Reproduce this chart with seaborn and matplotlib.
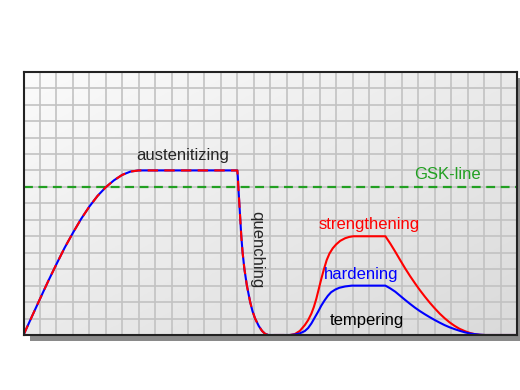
import numpy as np
import matplotlib
matplotlib.use("Agg")
import matplotlib.pyplot as plt
from matplotlib.patches import Rectangle
import seaborn as sns

# --- data (time / temperature in grid cells) ---
# shared path: heating, austenitizing, quenching, hold
shared_x = [0, 0.5, 1.0, 1.5, 2.0, 2.5, 3.0, 3.5, 4.0, 4.5, 5.0, 5.5, 6.0, 6.5, 7.0, 7.1,
            13.0, 13.03, 13.06, 13.12, 13.18, 13.24, 13.32, 13.43, 13.58, 13.78, 13.92,
            14.08, 14.3, 14.5, 14.7, 14.9, 16.2]
shared_y = [0, 1.1, 2.19, 3.27, 4.3, 5.3, 6.2, 7.05, 7.8, 8.45, 8.98, 9.4, 9.73, 9.93, 10.0, 10.0,
            10.0, 9.6, 9.0, 8.0, 7.0, 6.0, 5.0, 4.0, 3.0, 2.0, 1.45,
            1.0, 0.55, 0.25, 0.06, 0, 0]

# strengthening (red) tempering
strength_x = [16.2, 16.5, 16.8, 17.1, 17.3, 17.5, 17.65, 17.8, 17.95, 18.1, 18.25, 18.43,
              18.6, 18.8, 19.0, 19.25, 19.55, 19.8, 20.05, 22.0,
              22.3, 22.6, 22.9, 23.2, 23.5, 23.8, 24.1, 24.4, 24.7, 25.0, 25.3, 25.6,
              25.9, 26.2, 26.5, 26.84, 27.15, 27.45, 27.75, 28.06, 30]
strength_y = [0, 0.06, 0.25, 0.6, 0.9, 1.3, 1.7, 2.2, 2.8, 3.4, 3.95, 4.55,
              4.95, 5.27, 5.5, 5.72, 5.88, 5.96, 6.0, 6.0,
              5.55, 5.06, 4.55, 4.05, 3.58, 3.14, 2.72, 2.33, 1.96, 1.62, 1.3, 1.02,
              0.77, 0.56, 0.38, 0.23, 0.12, 0.05, 0.01, 0, 0]

# hardening (blue) tempering
harden_x = [16.2, 16.5, 16.8, 17.1, 17.3, 17.5, 17.7, 17.9, 18.1, 18.3, 18.5, 18.7,
            18.95, 19.2, 19.55, 19.95, 22.0,
            22.3, 22.6, 22.9, 23.2, 23.5, 23.8, 24.1, 24.4, 24.7, 25.0, 25.3, 25.6,
            25.9, 26.2, 26.5, 26.84, 27.15, 27.45, 27.75, 28.06, 30]
harden_y = [0, 0.03, 0.1, 0.24, 0.42, 0.7, 1.05, 1.4, 1.78, 2.1, 2.38, 2.6,
            2.76, 2.87, 2.95, 3.0, 3.0,
            2.83, 2.63, 2.38, 2.13, 1.89, 1.66, 1.45, 1.26, 1.08, 0.91, 0.75, 0.6,
            0.47, 0.36, 0.26, 0.16, 0.09, 0.05, 0.02, 0, 0]

gsk_level = 9.0

sns.set_style("white")
plt.rcParams['font.family'] = ['Liberation Sans', 'DejaVu Sans']

fig = plt.figure(figsize=(5.2, 3.9), dpi=100)
ax = fig.add_axes([23.5 / 520, 55 / 390, 493.5 / 520, 263.3 / 390])

# drop shadow behind the plot box
shadow = Rectangle((29.5 / 520, 49 / 390), 493.5 / 520, 263.3 / 390,
                   transform=fig.transFigure, facecolor="#8a8a8a",
                   edgecolor="none", zorder=-1)
fig.patches.append(shadow)

# background gradient
gx, gy = np.meshgrid(np.linspace(0, 1, 200), np.linspace(0, 1, 200))
grad = 0.5 * gx + 0.5 * (1 - gy)
ax.imshow(grad, extent=[0, 30, 0, 16], origin="lower", aspect="auto",
          cmap=matplotlib.colors.LinearSegmentedColormap.from_list(
              "bg", ["#fbfbfb", "#dadada"]), zorder=0)

ax.set_xlim(0, 30)
ax.set_ylim(0, 16)
ax.set_xticks(np.arange(0, 31, 1))
ax.set_yticks(np.arange(0, 17, 1))
ax.grid(True, color="#c2c2c2", linewidth=1.2, zorder=1)
ax.tick_params(length=0, labelbottom=False, labelleft=False)
ax.set_axisbelow(False)
for s in ax.spines.values():
    s.set_color("#222222")
    s.set_linewidth(1.5)
    s.set_zorder(6)

# GSK line
ax.axhline(gsk_level, color="#22a022", linewidth=1.6, linestyle=(0, (4, 2.5)), zorder=3)

# curves
kw = dict(ax=ax, linewidth=1.5, sort=False, estimator=None)
sns.lineplot(x=shared_x, y=shared_y, color="#0000ff", zorder=4, **kw)
sns.lineplot(x=shared_x, y=shared_y, color="#ff0000", linestyle=(0, (5, 3)), zorder=5, **kw)
sns.lineplot(x=strength_x, y=strength_y, color="#ff0000", zorder=4, **kw)
sns.lineplot(x=harden_x, y=harden_y, color="#0000ff", zorder=4, **kw)

# annotations
ax.text(9.7, 10.9, "austenitizing", fontsize=12, ha="center", va="center", zorder=7)
ax.text(14.2, 5.2, "quenching", fontsize=12, rotation=-90, ha="center", va="center", zorder=7)
ax.text(25.75, 9.73, "GSK-line", fontsize=12, color="#22a022", ha="center", va="center", zorder=7)
ax.text(21.0, 6.69, "strengthening", fontsize=12, color="#ff0000", ha="center", va="center", zorder=7)
ax.text(20.5, 3.7, "hardening", fontsize=12, color="#0000ff", ha="center", va="center", zorder=7)
ax.text(20.9, 0.9, "tempering", fontsize=12, color="black", ha="center", va="center", zorder=7)

ax.set_xlabel("time", fontsize=12, labelpad=6)
ax.set_ylabel("temperature", fontsize=12, labelpad=4)

plt.savefig("out.png", dpi=100)
